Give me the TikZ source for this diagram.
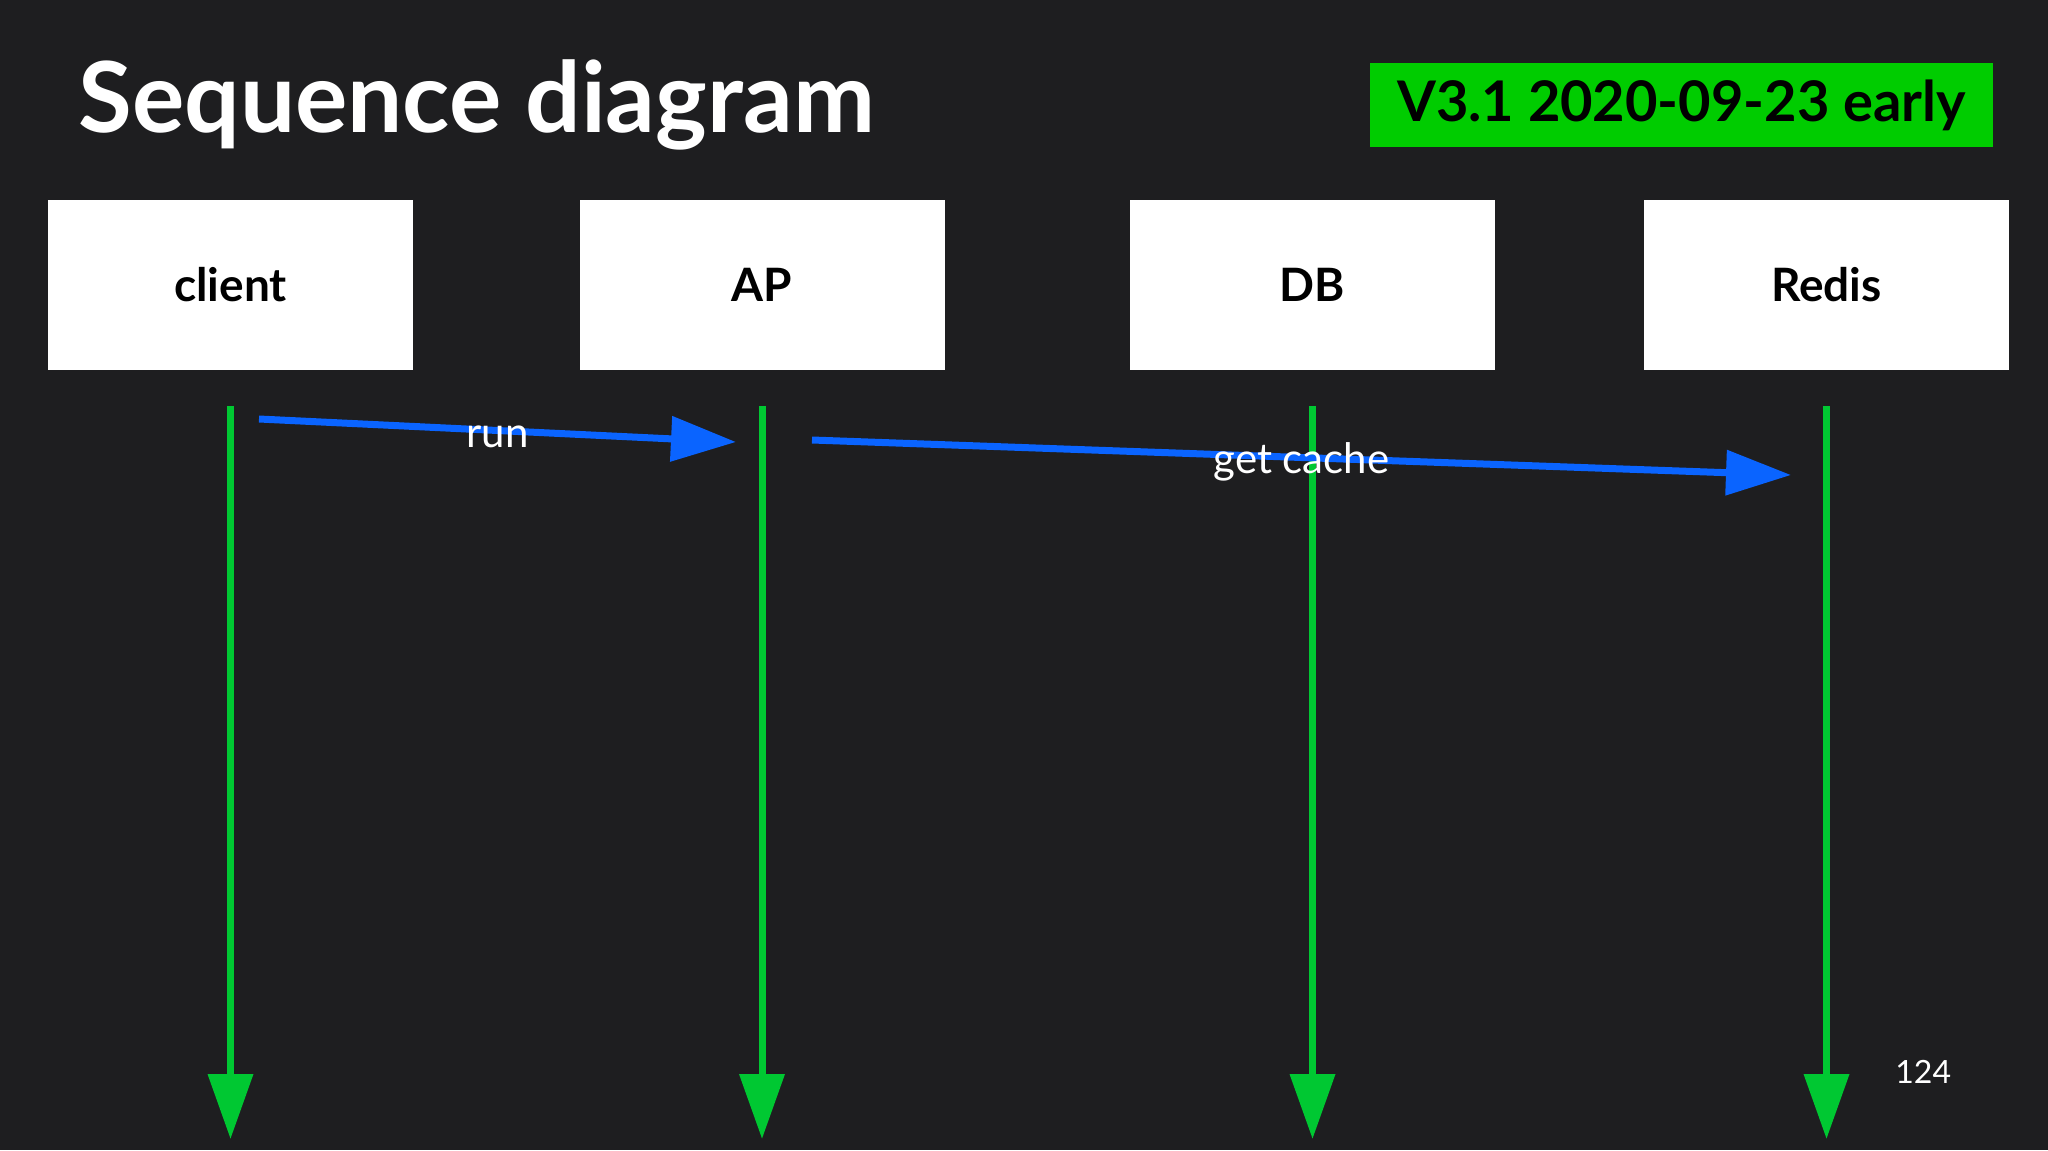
\documentclass[tikz,border=0pt]{standalone}
\usepackage{fontspec}
\setmainfont{Lato}
\usetikzlibrary{arrows.meta}

\definecolor{slidebg}{RGB}{30,30,32}
\definecolor{lifegreen}{RGB}{0,200,50}
\definecolor{badgegreen}{RGB}{0,204,0}
\definecolor{msgblue}{RGB}{10,100,255}

\begin{document}
\begin{tikzpicture}[
        x=0.5pt, y=-0.5pt,
        every node/.style={align=center, inner sep=0pt},
        actor/.style={rectangle, fill=white, minimum width=182.5pt, minimum height=85pt, font=\fontsize{23}{26}\selectfont\bfseries},
        lifeline/.style={draw=lifegreen, line width=3.5pt, -{Triangle[length=32.5pt, width=22pt]}},
        msg/.style={draw=msgblue, line width=3.5pt, -{Triangle[length=32.5pt, width=22pt]}},
        msglabel/.style={text=white, font=\fontsize{21}{24}\selectfont}
    ]
        % Background
        \fill[slidebg] (0,0) rectangle (2048,1150);

        % Title and version badge
        \node[anchor=base west, text=white, font=\fontsize{49}{53}\selectfont\bfseries] (title) at (78,133) {Sequence diagram};
        \node[fill=badgegreen, minimum width=311.5pt, minimum height=42pt, font=\fontsize{28}{30}\selectfont\bfseries] (badge) at (1681.5,105) {V3.1 2020-09-23 early};

        % Actors
        \node[actor] (client) at (230.5,285) {client};
        \node[actor] (ap) at (762,285) {AP};
        \node[actor] (db) at (1312.5,285) {DB};
        \node[actor] (redis) at (1826.5,285) {Redis};

        % Lifelines
        \coordinate (bottom) at (0,1139);
        \foreach \n in {client, ap, db, redis}
            \draw[lifeline] ([yshift=-18pt]\n.south) -- (\n.south |- bottom);

        % Messages
        \coordinate (run from) at (259,419);
        \coordinate (run to) at (736,442);
        \coordinate (cache from) at (812,440);
        \coordinate (cache to) at (1791,475);
        \draw[msg] (run from) -- node[msglabel, yshift=-3pt] {run} (run to);
        \draw[msg] (cache from) -- node[msglabel, yshift=-2pt] {get cache} (cache to);

        % Page number
        \node[anchor=base west, text=white, font=\fontsize{16}{18}\selectfont] (page) at (1895,1083) {124};
    \end{tikzpicture}
\end{document}
